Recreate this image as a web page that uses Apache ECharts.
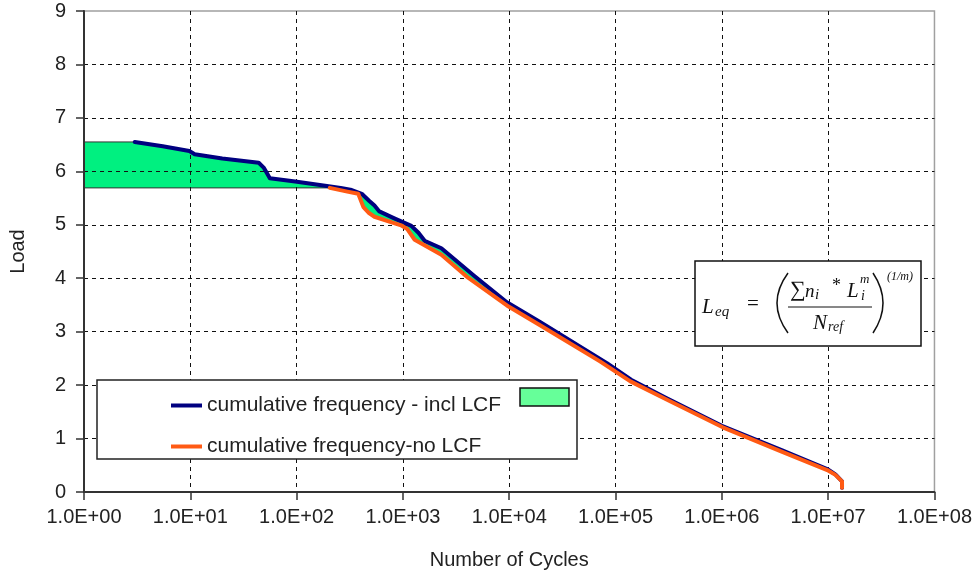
<!DOCTYPE html>
<html>
<head>
<meta charset="utf-8">
<script src="https://cdn.jsdelivr.net/npm/echarts@6/dist/echarts.min.js"></script>
<style>
  html, body { margin: 0; padding: 0; background: #fff; }
  #chart { width: 975px; height: 575px; }
</style>
</head>
<body>
<div id="chart"></div>
<script>
// cumulative load spectrum, incl. low cycle fatigue (LCF)
var blueCycles = [3, 5.5, 9.8, 11, 20, 44, 49, 56, 97, 200, 260, 330, 410, 480, 540, 600, 830, 1200, 1400, 1600,
  2300, 4700, 9500, 19500, 83000, 140000, 300000, 1.0e6, 3.7e6, 9.8e6, 1.17e7, 1.35e7, 1.35e7];
var blueLoad = [6.55, 6.47, 6.38, 6.32, 6.24, 6.16, 6.07, 5.87, 5.81, 5.72, 5.69, 5.65, 5.58, 5.45, 5.36, 5.25, 5.12, 4.98, 4.85, 4.70,
  4.56, 4.04, 3.55, 3.18, 2.41, 2.10, 1.76, 1.24, 0.78, 0.43, 0.33, 0.20, 0.08];

// cumulative load spectrum without LCF
var orangeCycles = [205, 300, 380, 425, 480, 540, 960, 1100, 1290, 2300, 4100, 9500, 19500, 72000, 138000, 302000,
  1.02e6, 3.7e6, 9.8e6, 1.17e7, 1.35e7, 1.35e7];
var orangeLoad = [5.69, 5.62, 5.58, 5.33, 5.22, 5.15, 4.99, 4.92, 4.72, 4.44, 4.01, 3.49, 3.12, 2.44, 2.07, 1.73,
  1.21, 0.75, 0.41, 0.32, 0.20, 0.08];

// LCF block (green area) limits
var lcfStartCycles = 1;
var lcfTopLoad = 6.55;
var lcfBaseLoad = 5.69;

var xTickLabels = ['1.0E+00', '1.0E+01', '1.0E+02', '1.0E+03', '1.0E+04', '1.0E+05', '1.0E+06', '1.0E+07', '1.0E+08'];
var seriesNames = ['cumulative frequency - incl LCF', 'cumulative frequency-no LCF'];

var blueData = blueCycles.map(function (c, i) { return [c, blueLoad[i]]; });
var orangeData = orangeCycles.map(function (c, i) { return [c, orangeLoad[i]]; });

// polygon of the green area: blue on top, orange (then base level) underneath
var fillData = [[lcfStartCycles, lcfTopLoad]].concat(blueData);
for (var i = orangeData.length - 1; i >= 0; i--) fillData.push(orangeData[i]);
fillData.push([orangeCycles[0], lcfBaseLoad]);
fillData.push([lcfStartCycles, lcfBaseLoad]);

var FONT = "'Liberation Sans', Arial, sans-serif";
var SERIF = "'Liberation Serif', 'Times New Roman', serif";

function mathText(x, y, txt, size, italic, align) {
  return {
    type: 'text', z: 101, x: x, y: y,
    style: {
      text: txt, fill: '#111',
      font: (italic ? 'italic ' : '') + size + 'px ' + SERIF,
      textAlign: align || 'left', textVerticalAlign: 'middle'
    }
  };
}

var chart = echarts.init(document.getElementById('chart'));

var option = {
  animation: false,
  backgroundColor: '#fff',
  grid: {
    left: 81, right: 39, top: 11, bottom: 76,
    show: true, borderColor: '#a0a0a0', borderWidth: 1.5
  },
  legend: {
    z: 110,
    orient: 'vertical',
    left: 166, top: 390,
    itemWidth: 31, itemHeight: 4, itemGap: 20,
    icon: 'rect',
    data: seriesNames,
    textStyle: { fontFamily: FONT, fontSize: 21, color: '#222' }
  },
  xAxis: {
    type: 'log', logBase: 10, min: 1, max: 1e8,
    name: 'Number of Cycles', nameLocation: 'middle', nameGap: 58,
    nameTextStyle: { fontFamily: FONT, fontSize: 20, color: '#222' },
    axisLine: { lineStyle: { color: '#333', width: 2 } },
    axisTick: { show: true, length: 8, lineStyle: { color: '#333', width: 1.5 } },
    axisLabel: {
      margin: 15, fontFamily: FONT, fontSize: 20, color: '#222',
      formatter: function (v) { return xTickLabels[Math.round(Math.log10(v))]; }
    },
    minorTick: { show: false },
    splitLine: { show: true, showMinLine: false, showMaxLine: false, lineStyle: { color: '#111', type: [4, 4], width: 1 } }
  },
  yAxis: {
    type: 'value', min: 0, max: 9, interval: 1,
    name: 'Load', nameLocation: 'middle', nameGap: 56, nameRotate: 90,
    nameTextStyle: { fontFamily: FONT, fontSize: 20, color: '#222' },
    axisLine: { show: true, lineStyle: { color: '#333', width: 2 } },
    axisTick: { show: true, length: 8, lineStyle: { color: '#333', width: 1.5 } },
    axisLabel: { margin: 18, fontFamily: FONT, fontSize: 20, color: '#222' },
    splitLine: { show: true, showMinLine: false, showMaxLine: false, lineStyle: { color: '#111', type: [4, 4], width: 1 } }
  },
  series: [
    {
      name: 'LCF',
      type: 'custom',
      z: -1,
      data: fillData,
      encode: { x: 0, y: 1 },
      renderItem: function (params, api) {
        if (params.dataIndex !== 0) return;
        var pts = fillData.map(function (p) { return api.coord(p); });
        return {
          type: 'polygon',
          shape: { points: pts },
          style: { fill: '#00F080', stroke: '#333', lineWidth: 1 }
        };
      }
    },
    {
      name: seriesNames[0],
      type: 'line',
      data: blueData,
      showSymbol: false,
      color: '#000080',
      lineStyle: { width: 4, color: '#000080', join: 'round', cap: 'round' }
    },
    {
      name: seriesNames[1],
      type: 'line',
      data: orangeData,
      showSymbol: false,
      color: '#FF5A14',
      lineStyle: { width: 4, color: '#FF5A14', join: 'round', cap: 'round' }
    }
  ],
  graphic: [
    // legend frame + area swatch
    { type: 'rect', z: 100, shape: { x: 97, y: 380, width: 480, height: 79 }, style: { fill: '#fff', stroke: '#222', lineWidth: 1.5 } },
    { type: 'rect', z: 101, shape: { x: 520, y: 388, width: 49, height: 18 }, style: { fill: '#66FF99', stroke: '#111', lineWidth: 1.5 } },
    // formula box
    {
      type: 'group', x: 695, y: 261, z: 100,
      children: [
        { type: 'rect', z: 100, shape: { x: 0, y: 0, width: 226, height: 85 }, style: { fill: '#fff', stroke: '#111', lineWidth: 1.5 } },
        mathText(7, 46, 'L', 21, true),
        mathText(20, 51, 'eq', 15, true),
        mathText(52, 43, '=', 21, false),
        { type: 'bezierCurve', z: 101, shape: { x1: 93, y1: 12, cpx1: 71, cpy1: 42, x2: 93, y2: 72 }, style: { stroke: '#111', lineWidth: 1.5, fill: null } },
        { type: 'bezierCurve', z: 101, shape: { x1: 178, y1: 12, cpx1: 198, cpy1: 42, x2: 178, y2: 72 }, style: { stroke: '#111', lineWidth: 1.5, fill: null } },
        mathText(95, 29, '\u2211', 22, false),
        mathText(110, 31, 'n', 19, true),
        mathText(120, 34, 'i', 15, true),
        mathText(137, 25, '*', 18, false),
        mathText(152, 30, 'L', 21, true),
        mathText(166, 35, 'i', 14, true),
        mathText(165, 19, 'm', 13, true),
        { type: 'line', z: 101, shape: { x1: 93, y1: 46, x2: 177, y2: 46 }, style: { stroke: '#111', lineWidth: 1 } },
        mathText(118, 62, 'N', 21, true),
        mathText(133, 66, 'ref', 14, true),
        mathText(192, 16, '(1/m)', 12, true)
      ]
    }
  ]
};

chart.setOption(option);
</script>
</body>
</html>
